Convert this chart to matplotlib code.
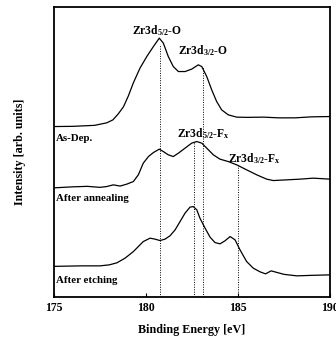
import matplotlib
matplotlib.use("Agg")
from matplotlib import pyplot as plt

plt.rcParams['font.family'] = ['Liberation Serif', 'DejaVu Serif']
plt.rcParams['font.weight'] = 'bold'
plt.rcParams['mathtext.fontset'] = 'custom'
plt.rcParams['mathtext.rm'] = 'Liberation Serif:bold'
plt.rcParams['mathtext.it'] = 'Liberation Serif:bold'
plt.rcParams['mathtext.bf'] = 'Liberation Serif:bold'

# As-deposited spectrum (binding energy eV, intensity arb. units incl. offset)
asdep_e = [175.0, 176.0, 176.6, 177.2, 177.86, 178.2, 178.49, 178.77, 179.04, 179.31,
           179.67, 180.04, 180.4, 180.72, 180.94, 181.21, 181.48, 181.76, 182.12, 182.48,
           182.84, 183.03, 183.3, 183.57, 183.84, 184.11, 184.47, 184.93, 185.5, 186.4,
           187.2, 188.1, 189.0, 190.0]
asdep_i = [170.3, 170.5, 171, 171.5, 174, 177, 183, 190, 201, 214,
           228.7, 240.3, 250.3, 258.7, 253.7, 240.3, 230.3, 225.3, 225.3, 227.7,
           232, 230.3, 220.3, 207, 195.3, 187, 182, 179.7, 179.5, 179.7,
           179, 179, 180, 180.3]

# after annealing
anneal_e = [175.0, 176.0, 176.8, 177.5, 177.86, 178.22, 178.59, 178.95, 179.31, 179.58,
            179.85, 180.13, 180.4, 180.72, 180.94, 181.21, 181.48, 181.76, 182.12, 182.48,
            182.76, 183.03, 183.3, 183.66, 184.02, 184.47, 184.93, 185.47, 186.02, 186.56,
            186.92, 187.65, 188.37, 189.09, 190.0]
anneal_i = [109, 110, 110.5, 109.5, 110.3, 112, 110.8, 112.7, 115.3, 122,
            133.7, 140.3, 144.3, 147.7, 145.3, 142, 140.3, 143.7, 148.7, 153.7,
            155.3, 153.7, 148.7, 142, 137.7, 135.3, 132, 127, 122, 117.7,
            116.3, 117, 117.7, 118.7, 117.7]

# after etching
etch_e = [175.0, 176.5, 177.5, 178.0, 178.41, 178.86, 179.31, 179.58, 179.85, 180.22,
          180.49, 180.76, 181.03, 181.3, 181.58, 181.85, 182.12, 182.39, 182.57, 182.76,
          182.93, 183.21, 183.48, 183.75, 184.02, 184.29, 184.57, 184.84, 185.11, 185.47,
          185.83, 186.2, 186.5, 186.8, 187.1, 187.5, 188.2, 189.0, 190.0]
etch_i = [30.5, 31, 31, 32, 34, 38.7, 45.3, 50.3, 55.3, 58.7,
          57.7, 56.3, 57.7, 61, 67, 75.3, 83.7, 89.7, 90.3, 87,
          78.7, 68.7, 59.7, 54.3, 53, 56, 60.3, 57, 47, 35.3,
          28.7, 25, 23, 26, 24.5, 22.5, 21, 21.5, 22]

sample_names = ['As-Dep.', 'After annealing', 'After etching']
name_y = [158, 98, 16]

# dotted peak markers: position and top of line
peak_pos = [180.75, 183.1, 182.6, 185.0]
peak_top = [252, 230, 155, 132]

peak_labels = [r'Zr3d$_{5/2}$-O', r'Zr3d$_{3/2}$-O', r'Zr3d$_{5/2}$-F$_x$', r'Zr3d$_{3/2}$-F$_x$']
label_x = [180.6, 183.1, 183.1, 185.9]
label_y = [259, 239, 156, 131]

fig = plt.figure(figsize=(3.36, 3.42), dpi=100)
ax = fig.add_axes([0.161, 0.132, 0.821, 0.848])

for e, i in [(asdep_e, asdep_i), (anneal_e, anneal_i), (etch_e, etch_i)]:
    ax.plot(e, i, color='black', lw=0.9)

for p, t in zip(peak_pos, peak_top):
    ax.plot([p, p], [0, t], color='black', lw=0.7, linestyle=(0, (1, 1.5)))

for lab, x, y in zip(peak_labels, label_x, label_y):
    ax.text(x, y, lab, ha='center', va='bottom', fontsize=8.3, fontweight='bold')

for n, y in zip(sample_names, name_y):
    ax.text(175.1, y, n, ha='left', va='center', fontsize=7.8, fontweight='bold')

ax.set_xlim(175, 190)
ax.set_ylim(0, 290)
ax.set_xticks([175, 180, 185, 190])
ax.set_yticks([])
ax.tick_params(axis='x', direction='in', length=3, labelsize=8.5, pad=4)
for s in ax.spines.values():
    s.set_linewidth(1.3)

ax.set_xlabel('Binding Energy [eV]', fontsize=8.7, fontweight='bold', labelpad=7)
ax.set_ylabel('Intensity [arb. units]', fontsize=8.7, fontweight='bold', labelpad=20)

plt.savefig('out.png', dpi=100)
